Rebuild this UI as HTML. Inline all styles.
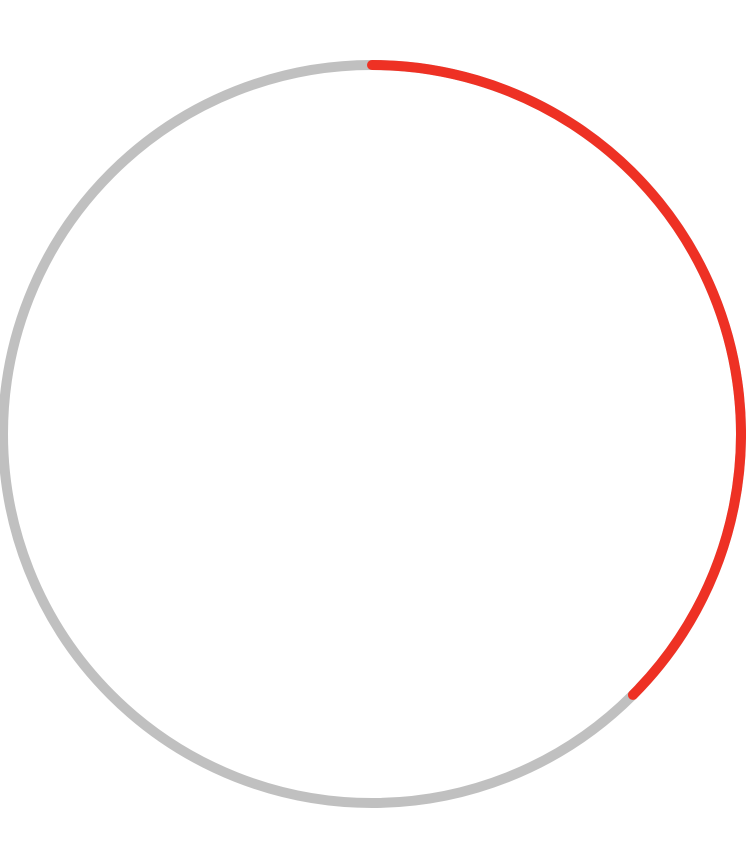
<!DOCTYPE html>
<html><head><meta charset="utf-8"><style>
html,body{margin:0;padding:0;background:#fff;width:746px;height:850px;overflow:hidden}
</style></head><body>
<svg id="chart" width="746" height="850" viewBox="0 0 746 850"></svg>
<script>
const categories = ["progress"];
const values = [0.375];
const total = [1];
const svg = document.getElementById('chart');
const NS = 'http://www.w3.org/2000/svg';
const cx = 372, cy = 434, r = 369, sw = 10;
const track = document.createElementNS(NS, 'circle');


track.setAttribute('cx', cx); track.setAttribute('cy', cy); track.setAttribute('r', r);
track.setAttribute('fill', 'none'); track.setAttribute('stroke', '#c0c0c0'); track.setAttribute('stroke-width', sw);
svg.appendChild(track);
function angleScale(v){ return (v / total[0]) * 2 * Math.PI; }
const a = angleScale(values[0]);
const ex = cx + r * Math.sin(a), ey = cy - r * Math.cos(a);
const large = a > Math.PI ? 1 : 0;
const arc = document.createElementNS(NS, 'path');


arc.setAttribute('d', `M ${cx} ${cy - r} A ${r} ${r} 0 ${large} 1 ${ex} ${ey}`);
arc.setAttribute('fill', 'none'); arc.setAttribute('stroke', '#ee3124');
arc.setAttribute('stroke-width', sw); arc.setAttribute('stroke-linecap', 'round');
svg.appendChild(arc);
</script>
</body></html>
